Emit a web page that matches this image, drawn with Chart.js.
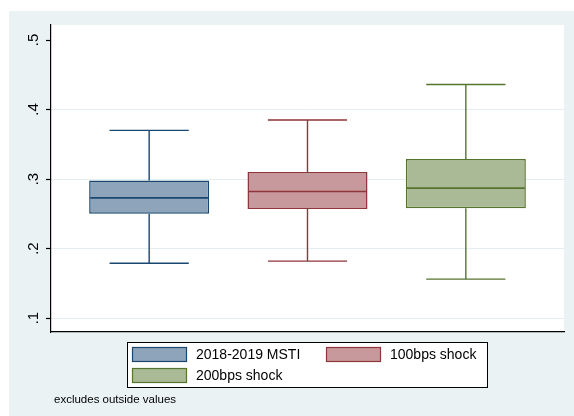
<!DOCTYPE html>
<html>
<head>
<meta charset="utf-8">
<script src="https://cdn.jsdelivr.net/npm/chart.js@4/dist/chart.umd.min.js"></script>
<style>
  html, body { margin: 0; padding: 0; background: #fff; }
  #wrap { width: 574px; height: 416px; }
</style>
</head>
<body>
<div id="wrap"><canvas id="chart" width="574" height="416"></canvas></div>
<script>
// box plot values
var categories = ['2018-2019 MSTI', '100bps shock', '200bps shock'];
var positions = [1, 2, 3];
var lowerAdj = [0.179, 0.182, 0.156];
var q1 = [0.250, 0.257, 0.258];
var median = [0.273, 0.282, 0.287];
var q3 = [0.298, 0.310, 0.329];
var upperAdj = [0.370, 0.385, 0.436];

var tickValues = [0.1, 0.2, 0.3, 0.4, 0.5];
var tickLabels = ['.1', '.2', '.3', '.4', '.5'];
var note = 'excludes outside values';

var lineColors = ['#1A476F', '#90353B', '#55752F'];
var fillColors = ['#8DA4BA', '#C8999C', '#AABA96'];

var FONT = '"Liberation Sans", Arial, Helvetica, sans-serif';

var backdrop = {
    id: 'backdrop',
    beforeDraw: function(chart) {
        var ctx = chart.ctx, a = chart.chartArea;
        ctx.save();
        ctx.fillStyle = '#fff';
        ctx.fillRect(0, 0, chart.width, chart.height);
        ctx.fillStyle = '#EAF2F3';
        ctx.fillRect(9, 11, chart.width - 9, chart.height - 11);
        ctx.fillStyle = '#fff';
        ctx.fillRect(a.left, a.top, a.right - a.left, a.bottom - a.top);
        ctx.restore();
    }
};

// medians and whiskers on top of the floating bars
var whiskers = {
    id: 'whiskers',
    afterDatasetsDraw: function(chart) {
        var ctx = chart.ctx, y = chart.scales.y;
        ctx.save();
        chart.data.datasets.forEach(function(ds, i) {
            var bar = chart.getDatasetMeta(i).data[0];
            var cx = bar.x, half = bar.width / 2, cap = bar.width * 0.33;
            var yLo = y.getPixelForValue(lowerAdj[i]);
            var yQ1 = y.getPixelForValue(q1[i]);
            var yMed = y.getPixelForValue(median[i]);
            var yQ3 = y.getPixelForValue(q3[i]);
            var yHi = y.getPixelForValue(upperAdj[i]);
            ctx.strokeStyle = lineColors[i];
            ctx.lineWidth = 1.4;
            ctx.beginPath();
            ctx.moveTo(cx, yQ3); ctx.lineTo(cx, yHi);
            ctx.moveTo(cx, yQ1); ctx.lineTo(cx, yLo);
            ctx.moveTo(cx - cap, yHi); ctx.lineTo(cx + cap, yHi);
            ctx.moveTo(cx - cap, yLo); ctx.lineTo(cx + cap, yLo);
            ctx.stroke();
            ctx.lineWidth = 1.6;
            ctx.beginPath();
            ctx.moveTo(cx - half + 1, yMed); ctx.lineTo(cx + half - 1, yMed);
            ctx.stroke();
        });
        ctx.restore();
    }
};

var legendBox = {
    id: 'legendBox',
    afterDraw: function(chart) {
        var ctx = chart.ctx;
        var slots = [[132, 347], [326, 347], [132, 368]];
        ctx.save();
        ctx.fillStyle = '#fff';
        ctx.fillRect(127, 342, 361, 46);
        ctx.strokeStyle = '#000';
        ctx.lineWidth = 1;
        ctx.strokeRect(127.5, 342.5, 360, 45);
        ctx.font = '14px ' + FONT;
        ctx.textBaseline = 'middle';
        chart.data.datasets.forEach(function(ds, i) {
            var s = slots[i];
            ctx.fillStyle = fillColors[i];
            ctx.fillRect(s[0], s[1], 55, 15);
            ctx.strokeStyle = lineColors[i];
            ctx.lineWidth = 1.2;
            ctx.strokeRect(s[0] + 0.5, s[1] + 0.5, 54, 14);
            ctx.fillStyle = '#000';
            ctx.fillText(ds.label, s[0] + 64, s[1] + 8);
        });
        ctx.font = '11.5px ' + FONT;
        ctx.fillText(note, 54, 400);
        ctx.restore();
    }
};

var datasets = categories.map(function(name, i) {
    return {
        label: name,
        data: [{x: positions[i], y: [q1[i], q3[i]]}],
        backgroundColor: fillColors[i],
        borderColor: lineColors[i],
        borderWidth: 1.5,
        borderSkipped: false
    };
});

new Chart(document.getElementById('chart'), {
    type: 'bar',
    data: {datasets: datasets},
    options: {
        responsive: false,
        animation: false,
        grouped: false,
        categoryPercentage: 0.758,
        barPercentage: 1,
        layout: {padding: {left: 9, top: 25, right: 10, bottom: 84}},
        plugins: {
            legend: {display: false},
            tooltip: {enabled: false}
        },
        scales: {
            x: {
                type: 'linear',
                offset: false,
                min: 0.38,
                max: 3.62,
                afterBuildTicks: function(scale) {
                    scale.ticks = positions.map(function(v) { return {value: v}; });
                },
                afterFit: function(scale) { scale.height = 0; },
                ticks: {display: false},
                grid: {display: false, drawTicks: false},
                border: {display: true, color: '#000', width: 1.2}
            },
            y: {
                min: 0.08,
                max: 0.5216,
                afterBuildTicks: function(scale) {
                    scale.ticks = tickValues.map(function(v) { return {value: v}; });
                },
                afterFit: function(scale) { scale.width = 42; },
                ticks: {
                    minRotation: 90,
                    maxRotation: 90,
                    crossAlign: 'center',
                    padding: 5.5,
                    color: '#000',
                    font: {family: FONT, size: 15},
                    callback: function(v) {
                        var k = tickValues.indexOf(v);
                        return k < 0 ? '' : tickLabels[k];
                    }
                },
                grid: {
                    color: function(c) {
                        return c.tick && c.tick.value === 0.5 ? 'rgba(0,0,0,0)' : '#E4EDEF';
                    },
                    lineWidth: 1,
                    tickColor: '#000',
                    tickLength: 5,
                    tickWidth: 1.2
                },
                border: {display: true, color: '#000', width: 1.2}
            }
        }
    },
    plugins: [backdrop, whiskers, legendBox]
});
</script>
</body>
</html>
